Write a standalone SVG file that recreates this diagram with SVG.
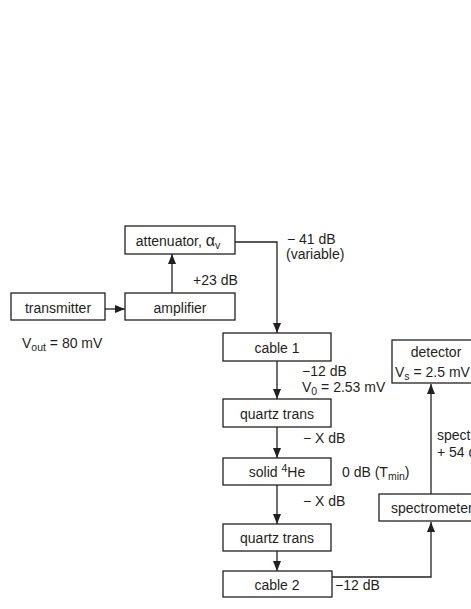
<svg xmlns="http://www.w3.org/2000/svg" width="471" height="609" viewBox="0 0 471 609">
<style>
rect.box{fill:#fff;stroke:#231f20;stroke-width:1.3}
text{font-family:"Liberation Sans",Arial,sans-serif;font-size:14px;fill:#231f20}
text.c{text-anchor:middle}
.conn path{fill:none;stroke:#231f20;stroke-width:1.3}
</style>
<defs>
<marker id="ah" viewBox="0 0 10 8" refX="10" refY="4" markerWidth="10" markerHeight="8" markerUnits="userSpaceOnUse" orient="auto">
<path d="M0,0 L10,4 L0,8 Z" fill="#231f20"/>
</marker>
</defs>
<rect width="471" height="609" fill="#fff"/>
<g class="conn">
<path d="M105,309 H125" marker-end="url(#ah)"/>
<path d="M172,293 V254" marker-end="url(#ah)"/>
<path d="M235,242 H277 V333" marker-end="url(#ah)"/>
<path d="M277,361 V399" marker-end="url(#ah)"/>
<path d="M277,427 V458" marker-end="url(#ah)"/>
<path d="M277,485 V524" marker-end="url(#ah)"/>
<path d="M277,551 V571" marker-end="url(#ah)"/>
<path d="M332,577 H431 V522" marker-end="url(#ah)"/>
<path d="M431,494 V384" marker-end="url(#ah)"/>
</g>
<g id="transmitter"><rect class="box" x="11" y="293" width="94" height="27"/><text class="c" x="58" y="312.5">transmitter</text></g>
<g id="amplifier"><rect class="box" x="125" y="293" width="110" height="27"/><text class="c" x="180" y="312.5">amplifier</text></g>
<g id="attenuator"><rect class="box" x="125" y="226" width="110" height="28"/><text class="c" x="178" y="245.5">attenuator, <tspan font-size="16">α</tspan><tspan font-size="10.5" dy="3">v</tspan></text></g>
<g id="cable1"><rect class="box" x="223" y="333" width="108" height="28"/><text class="c" x="277" y="352.5">cable 1</text></g>
<g id="quartz1"><rect class="box" x="223" y="399" width="108" height="28"/><text class="c" x="277" y="418.5">quartz trans</text></g>
<g id="solidHe"><rect class="box" x="223" y="458" width="108" height="27"/><text class="c" x="277" y="477">solid <tspan font-size="10.5" dy="-5">4</tspan><tspan dy="5">He</tspan></text></g>
<g id="quartz2"><rect class="box" x="223" y="524" width="108" height="27"/><text class="c" x="277" y="543">quartz trans</text></g>
<g id="cable2"><rect class="box" x="223" y="571" width="109" height="26"/><text class="c" x="277" y="589.5">cable 2</text></g>
<g id="detector"><rect class="box" x="392" y="340" width="88" height="43"/><text class="c" x="436" y="357">detector</text><text x="395" y="377">V<tspan font-size="10.5" dy="3">s</tspan><tspan dy="-3"> = 2.5 mV</tspan></text></g>
<g id="spectrometer"><rect class="box" x="379" y="494" width="104" height="27"/><text x="391" y="513">spectrometer</text></g>
<g id="labels">
<text x="22" y="348">V<tspan font-size="10.5" dy="3">out</tspan><tspan dy="-3"> = 80 mV</tspan></text>
<text x="193" y="285">+23 dB</text>
<text x="287" y="244">− 41 dB</text>
<text x="286" y="259">(variable)</text>
<text x="302" y="376">−12 dB</text>
<text x="302" y="392">V<tspan font-size="10.5" dy="3">0</tspan><tspan dy="-3"> = 2.53 mV</tspan></text>
<text x="303" y="443">− X dB</text>
<text x="342" y="477">0 dB (T<tspan font-size="10.5" dy="3">min</tspan><tspan dy="-3">)</tspan></text>
<text x="303" y="506">− X dB</text>
<text x="335" y="590">−12 dB</text>
<text x="437" y="440">spectrometer</text>
<text x="437" y="457">+ 54 dB</text>
</g>
</svg>
